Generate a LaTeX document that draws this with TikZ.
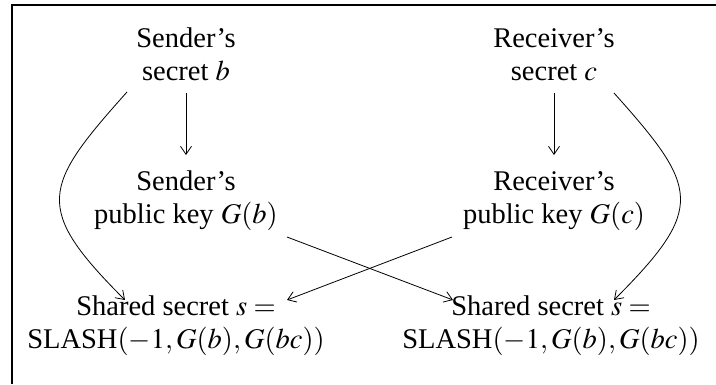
\documentclass[tikz,border=0pt]{standalone}
\usepackage{mathptmx}
\usepackage[no-math]{fontspec}
\setmainfont{Liberation Serif}
\usetikzlibrary{arrows.meta,calc}
\begin{document}
\begin{tikzpicture}[x=1pt,y=-1pt,
  lbl/.style={align=center,anchor=base,inner sep=0pt,font=\fontsize{28.5}{33}\selectfont},
  arr/.style={line width=0.8pt,-{Straight Barb[length=8pt,width=11pt,line width=0.8pt]}},
  frame/.style={line width=1.3pt}]
\useasboundingbox (0,0) rectangle (716,384);
\draw[frame] (12,384) -- (12,5) -- (716,5);
\node[lbl] (sb) at (186,80) {Sender’s\\secret $b$};
\node[lbl] (rc) at (554,80) {Receiver’s\\secret $c$};
\node[lbl] (pb) at (186,223) {Sender’s\\public key $G(b)$};
\node[lbl] (pc) at (554,223) {Receiver’s\\public key $G(c)$};
\node[lbl] (ssl) at (176,348) {Shared secret $s =$\\SLASH$(-1, G(b), G(bc))$};
\node[lbl] (ssr) at (551,348) {Shared secret $s =$\\SLASH$(-1, G(b), G(bc))$};
% straight arrows
\draw[arr] ($(sb.base)+(0,13)$) -- ($(pb.base)+(0,-68)$);
\draw[arr] ($(rc.base)+(0,13)$) -- ($(pc.base)+(0,-68)$);
% curved arrows
\draw[arr] ($(sb.base)+(-59,12)$) .. controls +(-85,95) and +(-92,-92) .. ($(ssl.base)+(-51,-48)$);
\draw[arr] ($(rc.base)+(60,13)$) .. controls +(85,95) and +(92,-92) .. ($(ssr.base)+(63,-48)$);
% crossing arrows
\draw[arr] ($(pb.base)+(101,14)$) -- ($(ssr.base)+(-98,-48)$);
\draw[arr] ($(pc.base)+(-102,14)$) -- ($(ssl.base)+(111,-48)$);
\end{tikzpicture}
\end{document}
